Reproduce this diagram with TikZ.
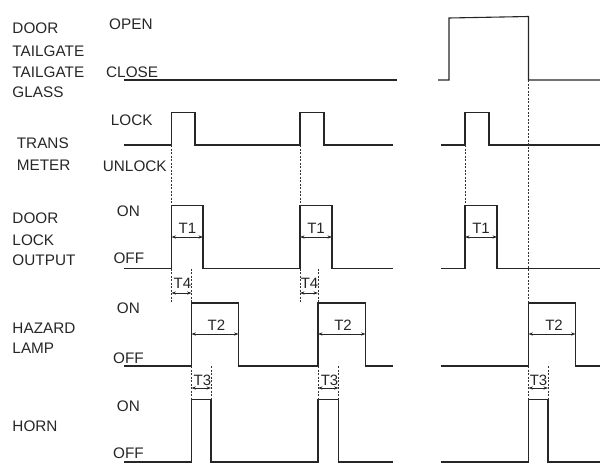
\documentclass[tikz,border=0pt]{standalone}
\usepackage{fontspec}
\setmainfont{Liberation Sans}
\usetikzlibrary{arrows.meta}
\begin{document}
\begin{tikzpicture}[x=1pt,y=-1pt,
  wave/.style={line width=1.1pt, draw=black!85, line join=miter},
  guide/.style={line width=0.6pt, dash pattern=on 2pt off 1.5pt, draw=black!80},
  dim/.style={line width=0.7pt, draw=black!85, {Stealth[length=4.5pt,width=3.2pt]}-{Stealth[length=4.5pt,width=3.2pt]}},
  lbl/.style={anchor=base west, inner sep=0pt, text=black!85, font=\fontsize{15.3}{18}\selectfont},
  tlbl/.style={inner sep=0pt, text=black!85, font=\fontsize{15}{17}\selectfont}]
\useasboundingbox (0,0) rectangle (600,463);

% ---------- left labels ----------
\node[lbl] (door1) at (12.3,33.3) {DOOR};
\node[lbl] (tail1) at (12.3,56) {TAILGATE};
\node[lbl] (tail2) at (12.3,77) {TAILGATE};
\node[lbl] (glass) at (12.3,97) {GLASS};
\node[lbl] (open) at (109,29) {OPEN};
\node[lbl] (close) at (106,77) {CLOSE};

\node[lbl] (lock) at (110.7,125) {LOCK};
\node[lbl] (trans) at (16.7,148) {TRANS};
\node[lbl] (meter) at (16.7,170) {METER};
\node[lbl] (unlock) at (102.7,171.7) {UNLOCK};

\node[lbl] (dlon) at (116.7,216.7) {ON};
\node[lbl] (door2) at (12.3,223) {DOOR};
\node[lbl] (lock2) at (12.3,245) {LOCK};
\node[lbl] (output) at (12.3,265) {OUTPUT};
\node[lbl] (dloff) at (113.3,263) {OFF};

\node[lbl] (hzon) at (116.7,313) {ON};
\node[lbl] (hazard) at (12.3,333) {HAZARD};
\node[lbl] (lamp) at (12.3,353) {LAMP};
\node[lbl] (hzoff) at (113,363) {OFF};

\node[lbl] (hnon) at (116.7,411.7) {ON};
\node[lbl] (horn) at (12.3,431.7) {HORN};
\node[lbl] (hnoff) at (113,458) {OFF};

% ---------- waveforms ----------
% door / tailgate
\draw[wave] (124,80) -- (397,80);
\draw[wave] (438,80) -- (449,80) -- (449,18) -- (528.5,16.5) -- (528.5,80) -- (600,80);
% trans meter
\draw[wave] (124,145) -- (171.5,145) -- (171.5,112.5) -- (195,112.5) -- (195,145) -- (300,145) -- (300,112.5) -- (324,112.5) -- (324,145) -- (393,145);
\draw[wave] (441,145) -- (465,145) -- (465,112.5) -- (489,112.5) -- (489,145) -- (600,145);
% door lock output
\draw[wave] (124,268.5) -- (171.5,268.5) -- (171.5,205.5) -- (203,205.5) -- (203,268.5) -- (300,268.5) -- (300,205.5) -- (332,205.5) -- (332,268.5) -- (393,268.5);
\draw[wave] (441,268.5) -- (465,268.5) -- (465,205.5) -- (497,205.5) -- (497,268.5) -- (600,268.5);
% hazard lamp
\draw[wave] (124,366) -- (191.5,366) -- (191.5,303) -- (238.5,303) -- (238.5,366) -- (318,366) -- (318,303) -- (365.5,303) -- (365.5,366) -- (393,366);
\draw[wave] (441,366) -- (528.5,366) -- (528.5,303) -- (575.5,303) -- (575.5,366) -- (600,366);
% horn
\draw[wave] (124,462) -- (191.5,462) -- (191.5,399.5) -- (211,399.5) -- (211,462) -- (318,462) -- (318,399.5) -- (338.5,399.5) -- (338.5,462) -- (393,462);
\draw[wave] (441,462) -- (528.5,462) -- (528.5,399.5) -- (548,399.5) -- (548,462) -- (600,462);

% ---------- guides ----------
\draw[guide] (171.5,145) -- (171.5,205.5) (171.5,268.5) -- (171.5,303);
\draw[guide] (300,145) -- (300,205.5) (300,268.5) -- (300,303);
\draw[guide] (191.5,268.5) -- (191.5,303);
\draw[guide] (318,268.5) -- (318,303);
\draw[guide] (465,145) -- (465,205.5);
\draw[guide] (528.5,80) -- (528.5,303);
\draw[guide] (191.5,366) -- (191.5,399.5) (211,366) -- (211,399.5);
\draw[guide] (318,366) -- (318,399.5) (338.5,366) -- (338.5,399.5);
\draw[guide] (528.5,366) -- (528.5,399.5) (548,366) -- (548,399.5);

% ---------- timing dimensions ----------
\coordinate (t1a) at (171.5,237); \coordinate (t1b) at (203,237);
\coordinate (t1c) at (300,237);   \coordinate (t1d) at (332,237);
\coordinate (t1e) at (465,237);   \coordinate (t1f) at (497,237);
\draw[dim] (t1a) -- (t1b);
\draw[dim] (t1c) -- (t1d);
\draw[dim] (t1e) -- (t1f);
\node[tlbl] (lt1a) at (187.5,228) {T1};
\node[tlbl] (lt1b) at (316,228) {T1};
\node[tlbl] (lt1c) at (481,228) {T1};

\coordinate (t4a) at (171.5,293); \coordinate (t4b) at (191.5,293);
\coordinate (t4c) at (300,293);   \coordinate (t4d) at (318,293);
\draw[dim] (t4a) -- (t4b);
\draw[dim] (t4c) -- (t4d);
\node[tlbl] (lt4a) at (182.5,283) {T4};
\node[tlbl] (lt4b) at (309.5,283) {T4};

\coordinate (t2a) at (191.5,334); \coordinate (t2b) at (238.5,334);
\coordinate (t2c) at (318,334);   \coordinate (t2d) at (365.5,334);
\coordinate (t2e) at (528.5,334); \coordinate (t2f) at (575.5,334);
\draw[dim] (t2a) -- (t2b);
\draw[dim] (t2c) -- (t2d);
\draw[dim] (t2e) -- (t2f);
\node[tlbl] (lt2a) at (216.5,325) {T2};
\node[tlbl] (lt2b) at (343,325) {T2};
\node[tlbl] (lt2c) at (554,325) {T2};

\coordinate (t3a) at (191.5,388); \coordinate (t3b) at (211,388);
\coordinate (t3c) at (318,388);   \coordinate (t3d) at (338.5,388);
\coordinate (t3e) at (528.5,388); \coordinate (t3f) at (548,388);
\draw[dim] (t3a) -- (t3b);
\draw[dim] (t3c) -- (t3d);
\draw[dim] (t3e) -- (t3f);
\node[tlbl] (lt3a) at (202.5,380) {T3};
\node[tlbl] (lt3b) at (329.5,380) {T3};
\node[tlbl] (lt3c) at (538.5,380) {T3};
\end{tikzpicture}
\end{document}
